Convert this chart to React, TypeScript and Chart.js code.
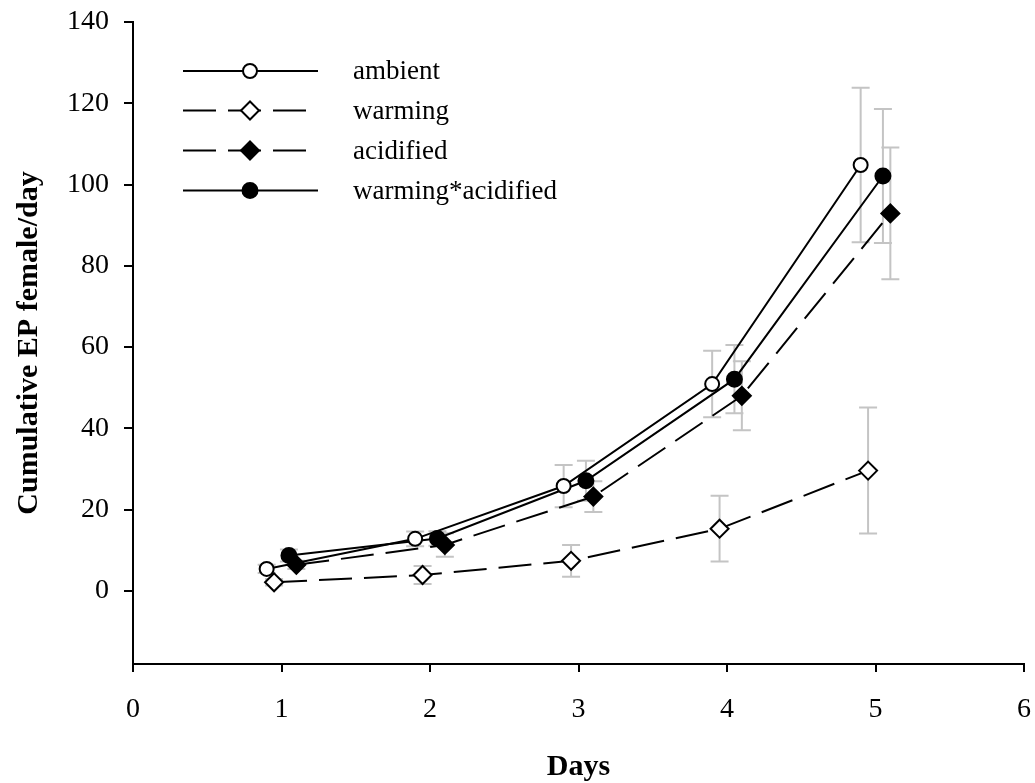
import React, { useEffect, useRef } from 'react';
import { Chart, registerables } from 'chart.js';
Chart.register(...registerables);

const seriesNames = ['ambient', 'warming', 'acidified', 'warming*acidified'];
const ambientX = [0.9, 1.9, 2.9, 3.9, 4.9];
const ambientY = [5.4, 12.8, 25.8, 50.9, 104.8];
const ambientErr = [1.0, 1.8, 5.2, 8.2, 19.0];
const warmingX = [0.95, 1.95, 2.95, 3.95, 4.95];
const warmingY = [2.1, 3.9, 7.4, 15.3, 29.6];
const warmingErr = [0.8, 2.2, 3.9, 8.1, 15.5];
const acidifiedX = [1.1, 2.1, 3.1, 4.1, 5.1];
const acidifiedY = [6.4, 11.3, 23.2, 48.0, 92.9];
const acidifiedErr = [1.0, 2.9, 3.8, 8.5, 16.2];
const bothX = [1.05, 2.05, 3.05, 4.05, 5.05];
const bothY = [8.7, 12.9, 27.1, 52.1, 102.1];
const bothErr = [1.5, 1.8, 4.9, 8.4, 16.5];
const xTicks = [0, 1, 2, 3, 4, 5, 6];
const yTicks = [0, 20, 40, 60, 80, 100, 120, 140];

const FONT = '"Liberation Serif", "Times New Roman", serif';
const DASH = [33, 12];

const styles = [
  { point: 'circle', radius: 7, fill: '#ffffff', dash: [] as number[] },
  { point: 'rectRot', radius: 9, fill: '#ffffff', dash: DASH },
  { point: 'rectRot', radius: 9, fill: '#000000', dash: DASH },
  { point: 'circle', radius: 7.5, fill: '#000000', dash: [] as number[] },
];

const xs = [ambientX, warmingX, acidifiedX, bothX];
const ys = [ambientY, warmingY, acidifiedY, bothY];
const errs = [ambientErr, warmingErr, acidifiedErr, bothErr];

const errorBarPlugin = {
  id: 'errorBars',
  beforeDatasetsDraw(chart: any) {
    const { ctx, scales } = chart;
    const xs2 = scales.x;
    const ys2 = scales.y;
    ctx.save();
    ctx.strokeStyle = '#c4c4c4';
    ctx.lineWidth = 2;
    for (let s = 0; s < xs.length; s++) {
      for (let i = 0; i < xs[s].length; i++) {
        const px = xs2.getPixelForValue(xs[s][i]);
        const top = ys2.getPixelForValue(ys[s][i] + errs[s][i]);
        const bot = ys2.getPixelForValue(ys[s][i] - errs[s][i]);
        ctx.beginPath();
        ctx.moveTo(px, top);
        ctx.lineTo(px, bot);
        ctx.moveTo(px - 9, top);
        ctx.lineTo(px + 9, top);
        ctx.moveTo(px - 9, bot);
        ctx.lineTo(px + 9, bot);
        ctx.stroke();
      }
    }
    ctx.restore();
  },
};

const legendPlugin = {
  id: 'customLegend',
  afterDraw(chart: any) {
    const { ctx } = chart;
    const x0 = 183;
    const x1 = 318;
    const xm = 250;
    const rows = [71, 110.5, 150.5, 190.5];
    ctx.save();
    for (let s = 0; s < seriesNames.length; s++) {
      const y = rows[s];
      const st = styles[s];
      ctx.strokeStyle = '#000';
      ctx.lineWidth = 2;
      ctx.setLineDash(st.dash);
      ctx.beginPath();
      ctx.moveTo(x0, y);
      ctx.lineTo(x1, y);
      ctx.stroke();
      ctx.setLineDash([]);
      ctx.fillStyle = st.fill;
      ctx.beginPath();
      if (st.point === 'circle') {
        ctx.arc(xm, y, st.radius, 0, Math.PI * 2);
      } else {
        ctx.moveTo(xm - st.radius, y);
        ctx.lineTo(xm, y - st.radius);
        ctx.lineTo(xm + st.radius, y);
        ctx.lineTo(xm, y + st.radius);
        ctx.closePath();
      }
      ctx.fill();
      ctx.stroke();
      ctx.fillStyle = '#000';
      ctx.font = `27px ${FONT}`;
      ctx.textBaseline = 'middle';
      ctx.textAlign = 'left';
      ctx.fillText(seriesNames[s], 353, y + 1);
    }
    ctx.restore();
  },
};

export default function App() {
  const ref = useRef<HTMLCanvasElement | null>(null);
  useEffect(() => {
    if (!ref.current) return;
    const datasets = seriesNames.map((name, s) => ({
      label: name,
      data: xs[s].map((x, i) => ({ x, y: ys[s][i] })),
      borderColor: '#000000',
      borderWidth: 2,
      borderDash: styles[s].dash,
      pointStyle: styles[s].point,
      pointRadius: styles[s].radius,
      pointBackgroundColor: styles[s].fill,
      pointBorderColor: '#000000',
      pointBorderWidth: 2,
      showLine: true,
      fill: false,
      tension: 0,
    }));
    const chart = new Chart(ref.current, {
      type: 'line',
      data: { datasets },
      plugins: [errorBarPlugin, legendPlugin],
      options: {
        responsive: false,
        animation: false,
        layout: { padding: { top: 22, right: 8, left: 0, bottom: 0 } },
        plugins: { legend: { display: false }, tooltip: { enabled: false } },
        scales: {
          x: {
            type: 'linear',
            min: 0,
            max: 6,
            afterBuildTicks: (scale: any) => {
              scale.ticks = xTicks.map((v) => ({ value: v }));
            },
            afterFit: (scale: any) => {
              scale.height = 119;
              scale.paddingLeft = 0;
              scale.paddingRight = 0;
            },
            ticks: {
              color: '#000',
              font: { family: FONT, size: 28 },
              padding: 21,
              maxRotation: 0,
            },
            grid: {
              display: true,
              drawOnChartArea: false,
              drawTicks: true,
              tickLength: 8,
              color: '#000',
              lineWidth: 2,
            },
            border: { display: true, color: '#000', width: 2 },
            title: {
              display: true,
              text: 'Days',
              color: '#000',
              font: { family: FONT, size: 30, weight: 'bold' },
              padding: { top: 0, bottom: -2 },
            },
          },
          y: {
            type: 'linear',
            min: -18,
            max: 140,
            afterBuildTicks: (scale: any) => {
              scale.ticks = yTicks.map((v) => ({ value: v }));
            },
            afterFit: (scale: any) => {
              scale.width = 133;
              scale.paddingTop = 0;
              scale.paddingBottom = 0;
            },
            ticks: {
              color: '#000',
              font: { family: FONT, size: 28 },
              padding: 15,
            },
            grid: {
              display: true,
              drawOnChartArea: false,
              drawTicks: true,
              tickLength: 9,
              color: '#000',
              lineWidth: 2,
            },
            border: { display: true, color: '#000', width: 2 },
            title: {
              display: true,
              text: 'Cumulative EP female/day',
              color: '#000',
              font: { family: FONT, size: 30, weight: 'bold' },
              padding: { top: 11, bottom: 0 },
            },
          },
        },
      },
    } as any);
    return () => chart.destroy();
  }, []);
  return (
    <div style={{ position: 'absolute', left: 0, top: 0, width: 1035, height: 783, background: '#fff' }}>
      <canvas ref={ref} width={1035} height={783} />
    </div>
  );
}
